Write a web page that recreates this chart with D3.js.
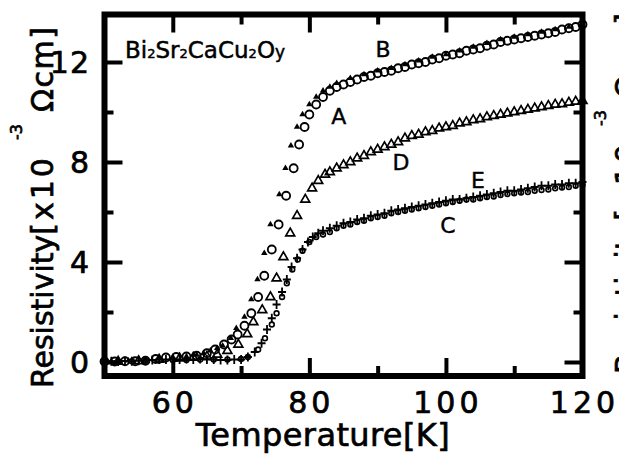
<!DOCTYPE html>
<html><head><meta charset="utf-8">
<script src="https://cdn.jsdelivr.net/npm/d3@7"></script>
<style>html,body{margin:0;padding:0;background:#fff;overflow:hidden}</style>
</head><body><svg id="c" width="619" height="459"></svg>
<script>
// ---- data ----
const xMajorTicks = [60, 80, 100, 120];
const xMinorTicks = [70, 90, 110];
const yMajorTicks = [0, 4, 8, 12];
const yMinorTicks = [2, 6, 10];
const xTickLabels = ["60", "80", "100", "120"];
const yTickLabels = ["0", "4", "8", "12"];

// Sample A : small filled triangles
const tempA = [51,53.5,56,58,60,62,63.5,64.5,65.5,66.5,67.3,68.5,69.3,70.5,71.5,72.4,73.4,74.3,75.6,76.5,77.3,78.2,79,80,81,82,83,84,86,88,90,92,94,96,98,100,102,104,106,108,110,112,114,116,118];
const rhoA  = [0.03,0.05,0.08,0.15,0.2,0.22,0.28,0.35,0.45,0.55,0.65,0.95,1.35,1.8,2.5,3.3,4.35,5.5,6.7,7.75,8.65,9.4,9.9,10.3,10.6,10.85,11.0,11.15,11.35,11.5,11.65,11.75,11.9,12.05,12.2,12.3,12.45,12.6,12.75,12.9,13.0,13.1,13.2,13.3,13.4];
// Sample B : open circles
const tempB = [50,51.5,53,54.5,56,57.5,59,60.5,62,63.5,65,66.2,67.5,68.6,69.5,70.5,71.5,72.5,73.4,74.5,75.5,76.6,77.7,78.5,79.3,80,81,82,83,84,85,86,87,88,89,90,91,92,93,94,95,96,97,98,99,100,101,102,103,104,105,106,107,108,109,110,111,112,113,114,115,116,117,118,119,120];
const rhoB  = [0.02,0.02,0.03,0.03,0.05,0.12,0.18,0.2,0.22,0.25,0.35,0.5,0.7,0.9,1.1,1.45,1.95,2.6,3.45,4.5,5.5,6.65,7.75,8.7,9.4,9.9,10.3,10.6,10.85,11.0,11.1,11.2,11.3,11.4,11.45,11.55,11.6,11.65,11.75,11.8,11.9,11.95,12.0,12.1,12.15,12.25,12.3,12.35,12.45,12.5,12.55,12.65,12.7,12.8,12.85,12.9,12.95,13.0,13.05,13.1,13.15,13.2,13.3,13.35,13.4,13.5];
// Sample C : small open circles
const tempC = [50,52,54,56,58,60,62,64,66,68,70,71,72.5,73.5,74.5,75.2,76,76.7,77.5,78.3,79,80,81,82,83,84,85,86,87,88,89,90,91,92,93,94,95,96,97,98,99,100,101,102,103,104,105,106,107,108,109,110,111,112,113,114,115,116,117,118,119,120];
const rhoC  = [0.0,0.02,0.03,0.05,0.06,0.08,0.08,0.1,0.1,0.1,0.12,0.2,0.5,0.95,1.5,1.95,2.6,3.15,3.7,4.1,4.45,4.8,5.0,5.1,5.2,5.35,5.45,5.5,5.6,5.65,5.75,5.8,5.85,5.95,6.0,6.05,6.1,6.15,6.2,6.25,6.3,6.35,6.4,6.45,6.5,6.5,6.55,6.6,6.62,6.68,6.72,6.75,6.78,6.8,6.85,6.88,6.9,6.95,6.98,7.0,7.05,7.08];
// Sample D : open triangles
const tempD = [52,55,58,61,63,65,66.5,68,69.6,70.9,71.8,73.1,74.3,75.2,76.2,77.2,78.2,79.4,80.4,81.3,82.3,83,84,85,86,87,88,89,90,91,92,93,94,95,96,97,98,99,100,101,102,103,104,105,106,107,108,109,110,111,112,113,114,115,116,117,118,119,120];
const rhoD  = [0.02,0.04,0.1,0.15,0.18,0.22,0.3,0.45,0.7,1.12,1.6,2.08,2.6,3.35,4.2,5.15,5.85,6.5,6.95,7.25,7.5,7.6,7.75,7.88,8.0,8.15,8.25,8.4,8.5,8.6,8.7,8.8,8.95,9.05,9.1,9.2,9.25,9.35,9.4,9.45,9.55,9.6,9.68,9.72,9.8,9.85,9.9,9.95,10.0,10.05,10.1,10.15,10.2,10.25,10.3,10.32,10.38,10.42,10.45];
// Sample E : plus signs
const tempE = [50,51,52,53,54,55,56,57,58,59,60,61,62,63,64,65,66,67,68,69,70,71,72,73,73.8,74.5,75.2,76,76.7,77.4,78.2,79,79.8,80.5,81.3,82,83,84,85,86,87,88,89,90,91,92,93,94,95,96,97,98,99,100,101,102,103,104,105,106,107,108,109,110,111,112,113,114,115,116,117,118,119,120];
const rhoE  = [0.02,0.03,0.02,0.04,0.03,0.05,0.06,0.08,0.1,0.1,0.12,0.1,0.12,0.1,0.12,0.1,0.1,0.08,0.08,0.1,0.1,0.2,0.4,0.75,1.3,1.75,2.3,2.8,3.3,3.8,4.15,4.5,4.8,5.0,5.15,5.25,5.35,5.45,5.55,5.6,5.7,5.75,5.85,5.9,5.95,6.05,6.1,6.15,6.2,6.25,6.3,6.35,6.4,6.45,6.5,6.5,6.55,6.6,6.65,6.7,6.75,6.8,6.85,6.85,6.9,6.95,7.0,7.05,7.05,7.1,7.1,7.15,7.15,7.2];

const seriesLabels = ["A", "B", "C", "D", "E"];
const labelPos = [[84.3, 9.84], [90.8, 12.52], [100.3, 5.48], [93.4, 8.0], [104.7, 7.26]];

// ---- drawing ----
const FONT = "DejaVu Sans, Verdana, sans-serif";
const svg = d3.select("#c");
svg.append("rect").attr("width",619).attr("height",459).attr("fill","#fff");
const x = d3.scaleLinear().domain([50, 120]).range([104.5, 582.5]);
const y = d3.scaleLinear().domain([-0.56, 13.9]).range([376, 14.5]);
const pts = (ts, rs) => ts.slice(0, Math.min(ts.length, rs.length)).map((t, i) => [t, rs[i]]);
const bold = (sel, w) => sel.attr("stroke", "#000").attr("stroke-width", w);

// frame
svg.append("rect")
  .attr("x", x(50)).attr("y", y(13.9))
  .attr("width", x(120) - x(50)).attr("height", y(-0.56) - y(13.9))
  .attr("fill", "none").attr("stroke", "#000").attr("stroke-width", 6);

function ticks(axis, tr, vals, size) {
  const g = svg.append("g").attr("transform", tr)
    .call(axis.tickValues(vals).tickSize(size).tickFormat(""));
  g.select(".domain").remove();
  g.selectAll(".tick line").attr("stroke", "#000").attr("stroke-width", 4);
  g.selectAll(".tick text").remove();
}
ticks(d3.axisBottom(x), `translate(0,${y(-0.56)})`, xMajorTicks, -18);
ticks(d3.axisBottom(x), `translate(0,${y(-0.56)})`, xMinorTicks, -10);
ticks(d3.axisTop(x), `translate(0,${y(13.9)})`, xMajorTicks, -18);
ticks(d3.axisTop(x), `translate(0,${y(13.9)})`, xMinorTicks, -10);
ticks(d3.axisLeft(y), `translate(${x(50)},0)`, yMajorTicks, -18);
ticks(d3.axisLeft(y), `translate(${x(50)},0)`, yMinorTicks, -9);
ticks(d3.axisRight(y), `translate(${x(120)},0)`, yMajorTicks, -18);
ticks(d3.axisRight(y), `translate(${x(120)},0)`, yMinorTicks, -9);

// tick labels
bold(svg.append("g").selectAll("text").data(xMajorTicks).join("text")
  .attr("x", d => x(d) + 2).attr("y", 413)
  .attr("text-anchor", "middle").attr("font-family", FONT).attr("font-size", 30)
  .attr("letter-spacing", 4)
  .text((d, i) => xTickLabels[i]), 0.7);
bold(svg.append("g").selectAll("text").data(yMajorTicks).join("text")
  .attr("x", 90).attr("y", d => y(d)).attr("dy", "0.36em")
  .attr("text-anchor", "end").attr("font-family", FONT).attr("font-size", 30)
  .attr("letter-spacing", 1)
  .text((d, i) => yTickLabels[i]), 0.7);

// axis titles
bold(svg.append("text").attr("x", 323).attr("y", 446).attr("text-anchor", "middle")
  .attr("font-family", FONT).attr("font-size", 32).attr("letter-spacing", 0.4)
  .text("Temperature[K]"), 0.7);

function yTitle(parent, tx, y0) {
  // rotated frame: text x = -(screen y)
  const t = parent.append("text").attr("transform", `translate(${tx},0) rotate(-90)`)
    .attr("font-family", FONT).attr("font-size", 30);
  bold(t, 0.7);
  t.append("tspan").attr("x", -(y0)).attr("y", 0).text("Resistivity");
  t.append("tspan").attr("letter-spacing", 3).text("[x10");
  t.append("tspan").attr("x", -(y0 - 248)).attr("y", -31).attr("font-size", 16).text("-3");
  t.append("tspan").attr("x", -(y0 - 276)).attr("y", 0).attr("letter-spacing", 1.5).text("\u03A9cm]");
}
yTitle(svg, 53, 388);
// edge of the neighbouring panel's axis title, cut off by the picture's right edge
yTitle(svg.append("g").attr("opacity", 0.99), 637, 374);

// formula
const f = bold(svg.append("text").attr("x", 125).attr("y", 58).attr("font-family", FONT).attr("font-size", 23), 0.5);
[["Bi",23],["2",13],["Sr",23],["2",13],["CaCu",23],["2",13],["O",23],["y",17]].forEach(([s, fs]) => {
  f.append("tspan").attr("font-size", fs).text(s);
});

// markers
const plot = svg.append("g");
// B open circles
plot.append("g").selectAll("circle").data(pts(tempB, rhoB)).join("circle")
  .attr("cx", d => x(d[0])).attr("cy", d => y(d[1])).attr("r", 4)
  .attr("fill", "none").attr("stroke", "#000").attr("stroke-width", 1.8);
// C small circles
plot.append("g").selectAll("circle").data(pts(tempC, rhoC)).join("circle")
  .attr("cx", d => x(d[0])).attr("cy", d => y(d[1])).attr("r", 2.4)
  .attr("fill", "none").attr("stroke", "#000").attr("stroke-width", 1.6);
// D open triangles
const tri = d3.symbol().type(d3.symbolTriangle).size(34);
plot.append("g").selectAll("path").data(pts(tempD, rhoD)).join("path")
  .attr("transform", d => `translate(${x(d[0])},${y(d[1])})`).attr("d", tri)
  .attr("fill", "none").attr("stroke", "#000").attr("stroke-width", 1.7);
// A small filled triangles
const triS = d3.symbol().type(d3.symbolTriangle).size(18);
plot.append("g").selectAll("path").data(pts(tempA, rhoA)).join("path")
  .attr("transform", d => `translate(${x(d[0])},${y(d[1])})`).attr("d", triS)
  .attr("fill", "#000");
// E plus
plot.append("g").selectAll("path").data(pts(tempE, rhoE)).join("path")
  .attr("d", d => { const cx = x(d[0]), cy = y(d[1]); return `M${cx-4},${cy}H${cx+4}M${cx},${cy-4.5}V${cy+4.5}`; })
  .attr("stroke", "#000").attr("stroke-width", 1.8).attr("fill", "none");

// series labels
bold(svg.append("g").selectAll("text").data(labelPos).join("text")
  .attr("x", d => x(d[0])).attr("y", d => y(d[1])).attr("dy", "0.36em")
  .attr("text-anchor", "middle").attr("font-family", FONT).attr("font-size", 22)
  .text((d, i) => seriesLabels[i]), 0.4);
</script>
</body></html>
